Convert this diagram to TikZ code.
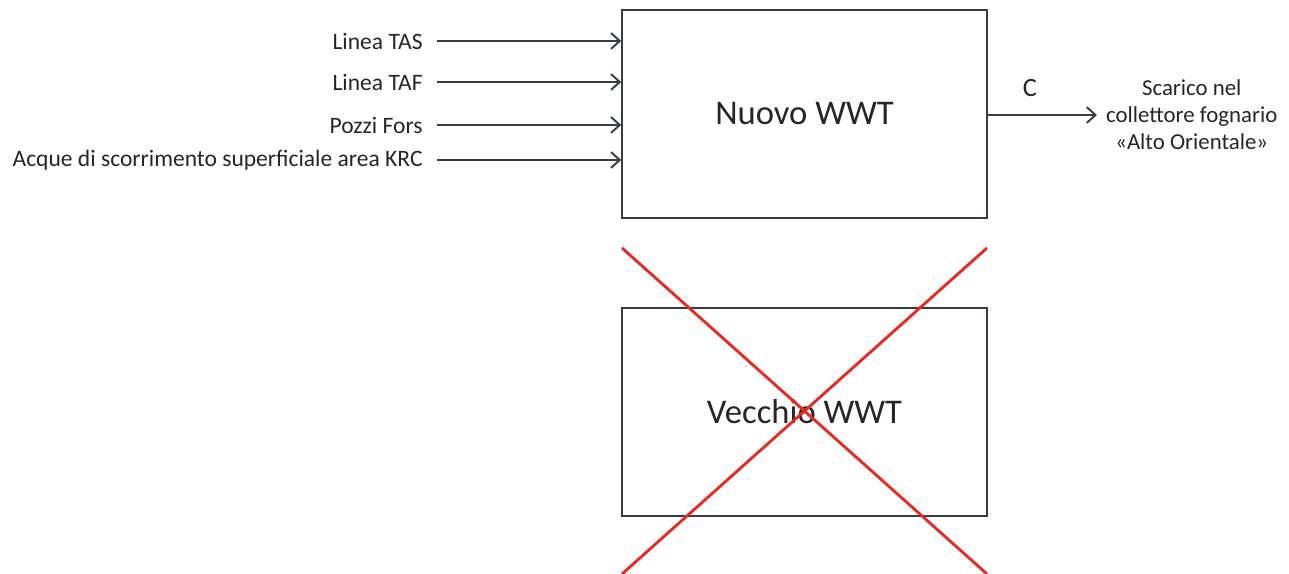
\documentclass[tikz,border=0pt]{standalone}
\usepackage{fontspec}
\setmainfont{Carlito}
\usetikzlibrary{arrows.meta,positioning}
\definecolor{linegray}{rgb}{0.22,0.24,0.27}
\definecolor{crossred}{rgb}{0.93,0.15,0.12}
\begin{document}
\begin{tikzpicture}[x=0.02cm,y=-0.02cm]
\tikzstyle{plant}=[rectangle, draw=linegray, line width=0.9pt, minimum width=7.3cm, minimum height=4.16cm, text=black!85, font=\fontsize{19.7}{23}\selectfont]
\tikzstyle{source}=[anchor=east, inner xsep=8pt, inner ysep=0pt, text=black!85, font=\fontsize{13.4}{15}\selectfont]
\tikzstyle{flow}=[-{Straight Barb[length=5pt,width=9pt]}, draw=linegray, line width=1.1pt]
\tikzstyle{cross}=[draw=crossred, line width=1.6pt]
\useasboundingbox (0,0) rectangle (1289,574);

\node[plant] (nuovo) at (804.5,114) {Nuovo WWT};
\node[plant] (vecchio) at (804.5,412) {Vecchio WWT};

\node[source] (tas) at (437,41) {Linea TAS};
\node[source] (taf) at (437,82) {Linea TAF};
\node[source] (fors) at (437,125) {Pozzi Fors};
\node[source] (krc) at (437,160) {Acque di scorrimento superficiale area KRC};

\node[anchor=west, align=center, inner xsep=5pt, text=black!85, font=\fontsize{13}{15.3}\selectfont] (scarico) at (1097,115) {Scarico nel\\collettore fognario\\«Alto Orientale»};
\node[text=black!85, font=\fontsize{15}{17}\selectfont] (c) at (1030,88) {C};
\coordinate (out) at (nuovo.east |- scarico.west);

\path
	(tas) edge[flow] (tas -| nuovo.west)
	(taf) edge[flow] (taf -| nuovo.west)
	(fors) edge[flow] (fors -| nuovo.west)
	(krc) edge[flow] (krc -| nuovo.west)
	(out) edge[flow] (scarico.west);

% vecchio impianto dismesso
\coordinate (xa) at (622,248);
\coordinate (xb) at (987,574);
\coordinate (xc) at (987,248);
\coordinate (xd) at (622,574);
\draw[cross] (xa) -- (xb);
\draw[cross] (xc) -- (xd);
\end{tikzpicture}
\end{document}
